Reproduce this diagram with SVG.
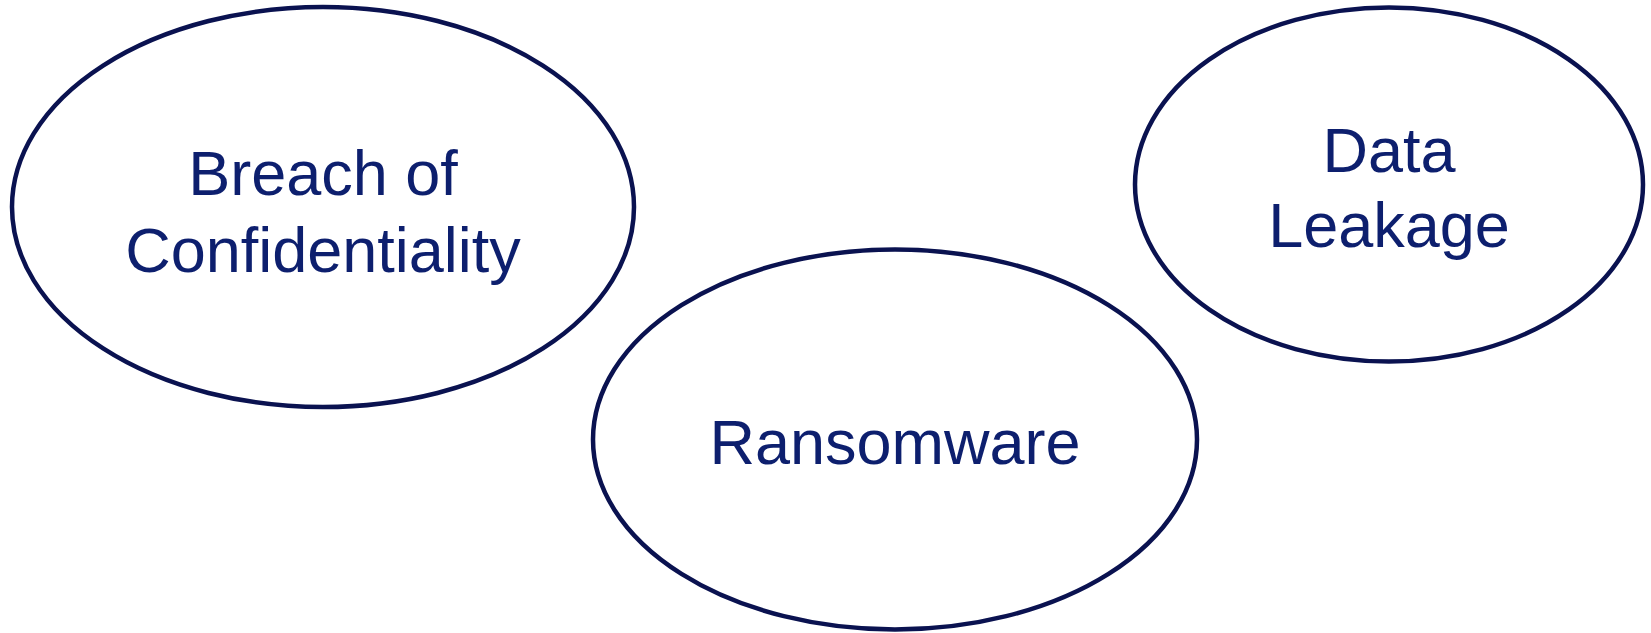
<svg xmlns="http://www.w3.org/2000/svg" width="1651" height="633" viewBox="0 0 1651 633">
<style>
.node{fill:#ffffff;stroke:#0a1250;stroke-width:4.5}
.lbl{font-family:"Liberation Sans",Arial,sans-serif;font-size:63px;fill:#0d1f6e;text-anchor:middle}
</style>
<rect width="1651" height="633" fill="#ffffff"/>
<g id="connectors"></g>
<g id="node-breach">
<ellipse class="node" cx="323" cy="207" rx="311" ry="200"/>
<text class="lbl" x="323" y="195">Breach of</text>
<text class="lbl" x="323" y="271.5">Confidentiality</text>
</g>
<g id="node-ransomware">
<ellipse class="node" cx="895" cy="439.5" rx="302" ry="190"/>
<text class="lbl" x="895" y="463.5">Ransomware</text>
</g>
<g id="node-dataleakage">
<ellipse class="node" cx="1389" cy="184.5" rx="254" ry="177"/>
<text class="lbl" x="1389" y="171.5">Data</text>
<text class="lbl" x="1389" y="247">Leakage</text>
</g>
</svg>
